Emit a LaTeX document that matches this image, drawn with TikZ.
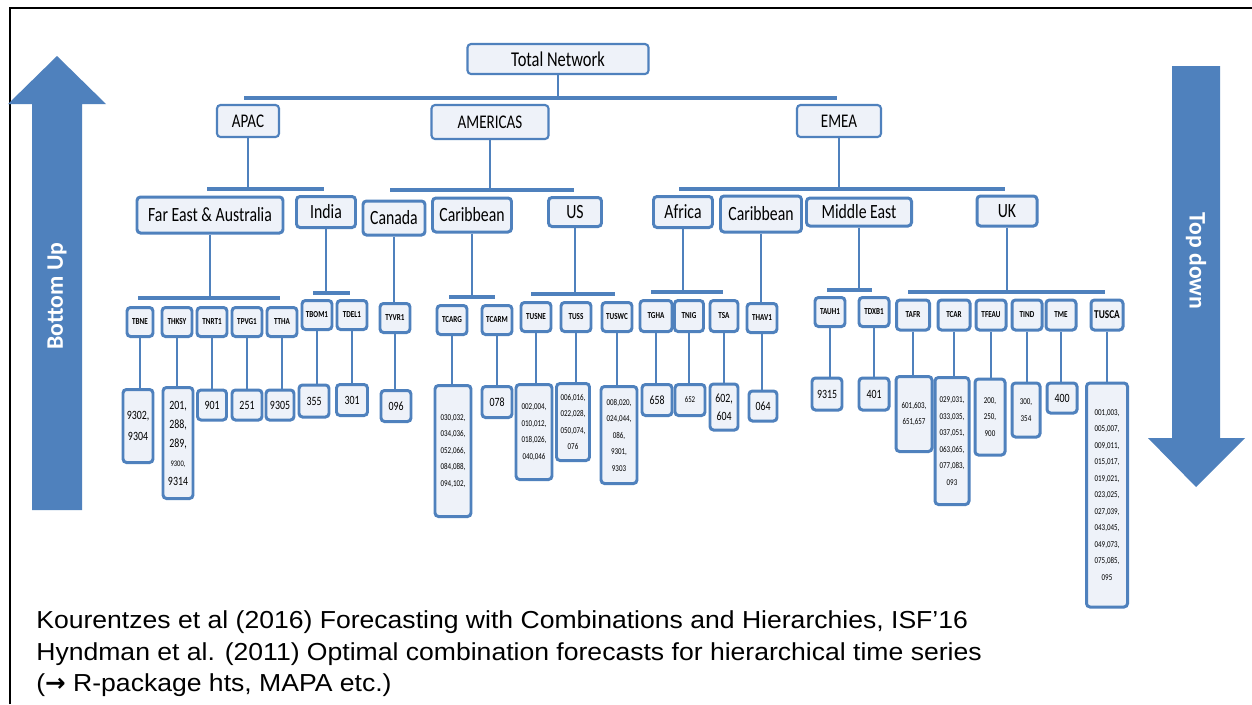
\documentclass[tikz,border=0pt]{standalone}
\usepackage{fontspec}
\setmainfont{Liberation Sans}
\newfontfamily\reffont{Liberation Sans}[FakeStretch=1.08]
\newfontfamily\symfont{DejaVu Sans}
\newfontfamily\chartfont{Carlito}[FakeStretch=0.78]
\newfontfamily\arrowfont{Carlito}
\definecolor{netblue}{HTML}{4F81BD}
\definecolor{netfill}{HTML}{EEF2F9}
\tikzset{
    sz/.style 2 args={minimum width=#1*0.02cm, minimum height=#2*0.02cm},
    box/.style={draw=netblue, fill=netfill, rounded corners=2pt, inner sep=0pt,
        align=center, line width=1.7pt, font=\chartfont},
    net/.style={box, line width=1.2pt, font=\chartfont\fontsize{12}{14}\selectfont},
    region/.style={box, line width=1.2pt, font=\chartfont\fontsize{11}{13}\selectfont},
    area/.style={box, font=\chartfont\fontsize{11.5}{13}\selectfont},
    site/.style={box, sz={30}{29}, font=\chartfont\bfseries\fontsize{5.2}{6}\selectfont},
    code/.style={box, font=\chartfont\fontsize{7.2}{12.3}\selectfont},
    codes/.style={box, font=\chartfont\fontsize{5.1}{9.4}\selectfont},
    link/.style={draw=netblue, line width=1.6pt},
    thinlink/.style={draw=netblue, line width=1.1pt},
    bar/.style={draw=netblue, line width=2.2pt},
    ref/.style={anchor=base west, inner sep=0pt, font=\reffont\fontsize{14}{17.6}\selectfont},
    updown/.style={text=white, inner sep=0pt, font=\arrowfont\bfseries\fontsize{13.5}{16}\selectfont}
}

\begin{document}
\begin{tikzpicture}[x=0.02cm, y=-0.02cm]
    \useasboundingbox (0,0) rectangle (1252,704);
    \fill[white] (0,0) rectangle (1252,704);
    \draw[line width=1.1pt] (10,704) -- (10,8) -- (1252,8);

    % big arrows at the sides
    \fill[netblue] (32,510) -- (32,104) -- (8,104) -- (57,56) -- (106,104) -- (82,104) -- (82,510) -- cycle;
    \fill[netblue] (1172,66) -- (1172,438) -- (1148,438) -- (1196,487) -- (1245,438) -- (1220,438) -- (1220,66) -- cycle;
    \node[updown, rotate=90] (bu) at (57,296) {Bottom Up};
    \node[updown, rotate=-90] (td) at (1196,261) {Top down};

    % levels 0 and 1
    \node[net, sz={181}{30}] (tot) at (558,59) {Total Network};
    \node[region, sz={62}{32}] (apac) at (248,121) {APAC};
    \node[region, sz={117}{34}] (amer) at (490,122) {AMERICAS};
    \node[region, sz={84}{32}] (emea) at (839,121) {EMEA};

    % level 2
    \node[area, sz={146}{36}] (fea) at (210,215) {Far East \& Australia};
    \node[area, sz={59}{31}] (ind) at (326,212) {India};
    \node[area, sz={62}{34}] (can) at (394,218) {Canada};
    \node[area, sz={79}{34}] (cara) at (472,215) {Caribbean};
    \node[area, sz={53}{29}] (us) at (575,212) {US};
    \node[area, sz={59}{31}] (afr) at (683,212) {Africa};
    \node[area, sz={81}{36}] (care) at (761,214) {Caribbean};
    \node[area, sz={105}{28}] (mde) at (859,212) {Middle East};
    \node[area, sz={60}{30}] (uk) at (1007,211) {UK};

    % level 3
    \node[site, sz={26}{29}] (tbne) at (140,322) {TBNE};
    \node[site] (thksy) at (177,322) {THKSY};
    \node[site] (tnrt) at (212,322) {TNRT1};
    \node[site] (tpvg) at (247,322) {TPVG1};
    \node[site] (ttha) at (282,322) {TTHA};
    \node[site] (tbom) at (317,315) {TBOM1};
    \node[site] (tdel) at (352,315) {TDEL1};
    \node[site] (tyvr) at (395,318) {TYVR1};
    \node[site] (tcarg) at (452,320) {TCARG};
    \node[site] (tcarm) at (497,320) {TCARM};
    \node[site] (tusne) at (536,317) {TUSNE};
    \node[site] (tuss) at (576,317) {TUSS};
    \node[site] (tuswc) at (617,317) {TUSWC};
    \node[site, sz={32}{31}] (tgha) at (656,316) {TGHA};
    \node[site, sz={29}{31}] (tnig) at (689,316) {TNIG};
    \node[site, sz={28}{31}] (tsa) at (724,316) {TSA};
    \node[site] (thav) at (762,318) {THAV1};
    \node[site] (tauh) at (830,312) {TAUH1};
    \node[site] (tdxb) at (874,312) {TDXB1};
    \node[site, sz={33}{30}] (tafr) at (913,315) {TAFR};
    \node[site, sz={32}{30}] (tcar) at (954,315) {TCAR};
    \node[site, sz={30}{30}] (tfeau) at (991,315) {TFEAU};
    \node[site, sz={30}{30}] (tind) at (1027,315) {TIND};
    \node[site, sz={30}{30}] (tme) at (1061,315) {TME};
    \node[site, sz={32}{30}, font=\chartfont\bfseries\fontsize{6.8}{8}\selectfont] (tusca) at (1107,315) {TUSCA};

    % level 4
    \node[code, sz={30}{73}] (c9302) at (138,426) {9302,\\9304};
    \node[code, sz={30}{111}, font=\chartfont\fontsize{7.2}{10.8}\selectfont] (c201) at (178,443)
        {201,\\288,\\289,\\{\fontsize{4.8}{10.8}\selectfont 9300,}\\9314};
    \node[code, sz={29}{30}] (c901) at (212,405) {901};
    \node[code, sz={30}{30}] (c251) at (247,405) {251};
    \node[code, sz={28}{30}] (c9305) at (280,405) {9305};
    \node[code, sz={30}{32}] (c355) at (314,401) {355};
    \node[code, sz={31}{31}] (c301) at (352,400) {301};
    \node[code, sz={30}{31}] (c096) at (396,406) {096};
    \node[codes, sz={36}{131}] (ccarg) at (453,451) {030,032,\\034,036,\\052,066,\\084,088,\\094,102,};
    \node[code, sz={30}{31}] (c078) at (497,402) {078};
    \node[codes, sz={36}{95}] (cusne) at (534,432) {002,004,\\010,012,\\018,026,\\040,046};
    \node[codes, sz={33}{77}] (cuss) at (573,422) {006,016,\\022,028,\\050,074,\\076};
    \node[codes, sz={36}{97}] (cuswc) at (619,435) {008,020,\\024,044,\\086,\\9301,\\9303};
    \node[code, sz={30}{31}] (c658) at (657,400) {658};
    \node[code, sz={30}{31}, font=\chartfont\fontsize{5}{6}\selectfont] (c652) at (690,400) {652};
    \node[code, sz={28}{46}, font=\chartfont\fontsize{7.2}{10.2}\selectfont] (c602) at (724,407) {602,\\604};
    \node[code, sz={28}{30}] (c064) at (763,406) {064};
    \node[code, sz={30}{32}] (c9315) at (827,394) {9315};
    \node[code, sz={30}{32}] (c401) at (874,394) {401};
    \node[codes, sz={36}{75}] (cafr) at (914,414) {601,603,\\651,657};
    \node[codes, sz={34}{127}] (ccar) at (952,441) {029,031,\\033,035,\\037,051,\\063,065,\\077,083,\\093};
    \node[codes, sz={30}{76}] (cfeau) at (990,417) {200,\\250,\\900};
    \node[codes, sz={28}{54}] (cind) at (1026,410) {300,\\354};
    \node[code, sz={30}{30}] (c400) at (1062,398) {400};
    \node[codes, sz={41}{224}] (cusca) at (1107,495)
        {001,003,\\005,007,\\009,011,\\015,017,\\019,021,\\023,025,\\027,039,\\043,045,\\049,073,\\075,085,\\095};

    % bar ends
    \coordinate (totL) at (244,98);  \coordinate (totR) at (837,98);
    \coordinate (apL) at (207,189);  \coordinate (apR) at (324,189);
    \coordinate (amL) at (390,190);  \coordinate (amR) at (574,190);
    \coordinate (emL) at (679,189);  \coordinate (emR) at (1005,189);
    \coordinate (feaL) at (138,298); \coordinate (feaR) at (280,298);
    \coordinate (indL) at (313,293); \coordinate (indR) at (350,293);
    \coordinate (caL) at (449,297);  \coordinate (caR) at (495,297);
    \coordinate (usL) at (531,294);  \coordinate (usR) at (615,294);
    \coordinate (afL) at (651,292);  \coordinate (afR) at (723,292);
    \coordinate (meL) at (827,290);  \coordinate (meR) at (872,290);
    \coordinate (ukL) at (908,292);  \coordinate (ukR) at (1105,292);

    \draw[thinlink] (tot) -- (tot |- totL);
    \draw[bar] (totL) -- (totR);
    \draw[thinlink] (apac) -- (apac |- apL);
    \draw[thinlink] (amer) -- (amer |- amL);
    \draw[thinlink] (emea) -- (emea |- emL);
    \draw[bar] (apL) -- (apR);
    \draw[bar] (amL) -- (amR);
    \draw[bar] (emL) -- (emR);

    \draw[link] (fea) -- (fea |- feaL);
    \draw[link] (ind) -- (ind |- indL);
    \draw[link] (can) -- (can |- tyvr.north);
    \draw[link] (cara) -- (cara |- caL);
    \draw[link] (us) -- (us |- usL);
    \draw[link] (afr) -- (afr |- afL);
    \draw[link] (care) -- (care |- thav.north);
    \draw[link] (mde) -- (mde |- meL);
    \draw[link] (uk) -- (uk |- ukL);
    \draw[bar] (feaL) -- (feaR);
    \draw[bar] (indL) -- (indR);
    \draw[bar] (caL) -- (caR);
    \draw[bar] (usL) -- (usR);
    \draw[bar] (afL) -- (afR);
    \draw[bar] (meL) -- (meR);
    \draw[bar] (ukL) -- (ukR);

    \draw[link] (tbne) -- (tbne |- c9302.north);
    \draw[link] (thksy) -- (thksy |- c201.north);
    \draw[link] (tnrt) -- (tnrt |- c901.north);
    \draw[link] (tpvg) -- (tpvg |- c251.north);
    \draw[link] (ttha) -- (ttha |- c9305.north);
    \draw[link] (tbom) -- (tbom |- c355.north);
    \draw[link] (tdel) -- (tdel |- c301.north);
    \draw[link] (tyvr) -- (tyvr |- c096.north);
    \draw[link] (tcarg) -- (tcarg |- ccarg.north);
    \draw[link] (tcarm) -- (tcarm |- c078.north);
    \draw[link] (tusne) -- (tusne |- cusne.north);
    \draw[link] (tuss) -- (tuss |- cuss.north);
    \draw[link] (tuswc) -- (tuswc |- cuswc.north);
    \draw[link] (tgha) -- (tgha |- c658.north);
    \draw[link] (tnig) -- (tnig |- c652.north);
    \draw[link] (tsa) -- (tsa |- c602.north);
    \draw[link] (thav) -- (thav |- c064.north);
    \draw[link] (tauh) -- (tauh |- c9315.north);
    \draw[link] (tdxb) -- (tdxb |- c401.north);
    \draw[link] (tafr) -- (tafr |- cafr.north);
    \draw[link] (tcar) -- (tcar |- ccar.north);
    \draw[link] (tfeau) -- (tfeau |- cfeau.north);
    \draw[link] (tind) -- (tind |- cind.north);
    \draw[link] (tme) -- (tme |- c400.north);
    \draw[link] (tusca) -- (tusca |- cusca.north);

    % references underneath
    \node[ref] (ref1) at (36,628) {Kourentzes et al (2016) Forecasting with Combinations and Hierarchies, ISF’16};
    \node[ref] (ref2) at (36,660) {Hyndman et al. (2011) Optimal combination forecasts for hierarchical time series};
    \node[ref] (ref3) at (36,691) {({\symfont\bfseries →} R-package hts, MAPA etc.)};
\end{tikzpicture}
\end{document}
